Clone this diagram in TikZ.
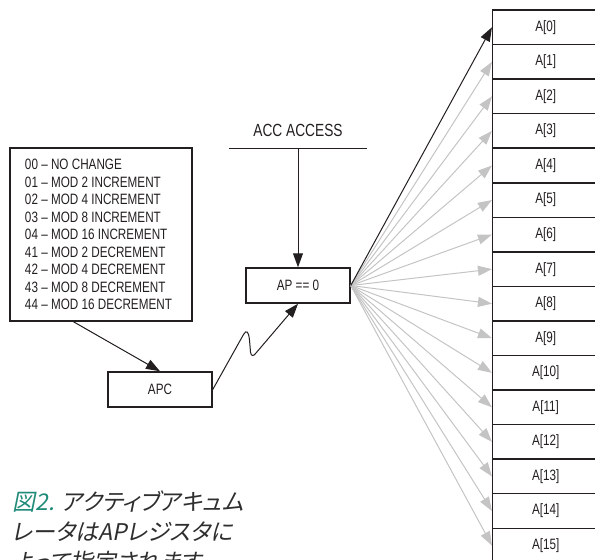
\documentclass[tikz,border=0pt]{standalone}
\usepackage{fontspec}
\usepackage{tikz}
\usetikzlibrary{arrows.meta,positioning,calc}
\newfontfamily\condsans[FakeStretch=0.78]{Liberation Sans}
\newfontfamily\capjp[FakeSlant=0.2,RawFeature=+palt]{Noto Sans CJK JP}
\definecolor{InkGray}{HTML}{231F20}
\definecolor{FanGray}{HTML}{C4C4C4}
\definecolor{FigTeal}{HTML}{1E8A78}
\definecolor{CapGray}{HTML}{2E2E2E}

\begin{document}
\begin{tikzpicture}[
  x=0.5pt,y=-0.5pt,
  box/.style={draw=InkGray,line width=0.75pt,minimum width=52pt,minimum height=17.5pt,
              inner sep=0pt,text=InkGray,font=\condsans\fontsize{7.5}{8.75}\selectfont},
  reg/.style={box,minimum width=53pt,minimum height=17.28pt},
  arr/.style={-{Triangle[length=7pt,width=5pt]},line width=0.5pt,draw=InkGray},
  fan/.style={arr,draw=FanGray}
]
\useasboundingbox (0,0) rectangle (595,559);
\clip (0,0) rectangle (595,559);

\node[box,minimum width=91pt,minimum height=86.5pt,text width=76pt,align=flush left] (modes) at (101,234.5)
  {00 – NO CHANGE\\01 – MOD 2 INCREMENT\\02 – MOD 4 INCREMENT\\03 – MOD 8 INCREMENT\\04 – MOD 16 INCREMENT\\41 – MOD 2 DECREMENT\\42 – MOD 4 DECREMENT\\43 – MOD 8 DECREMENT\\44 – MOD 16 DECREMENT};
\node[box] (ap) at (298,285.5) {AP == 0};
\node[box] (apc) at (160,389.5) {APC};

% accumulator access bus
\coordinate (accL) at (229,148);
\coordinate (accR) at (367,148);
\coordinate (acc) at (298,148);
\node[text=InkGray,font=\condsans\fontsize{8.8}{10}\selectfont,inner sep=0pt,above=5.5pt of acc] (acclabel) {ACC ACCESS};
\draw[InkGray,line width=0.5pt] (accL) -- (accR);
\draw[arr] (acc) -- (ap);

% accumulator registers
\foreach \i in {0,...,15}
  \node[reg] (r\i) at (545.7,{10+34.55*(\i+0.5)}) {A[\i]};

\foreach \i in {1,...,15}
  \draw[fan] (ap.east) -- (r\i.west);
\draw[arr] (ap.east) -- (r0.west);

\draw[arr] ($(modes.south west)!0.35!(modes.south east)$) -- (apc.north);
\draw[arr] (apc.east) -- (243.5,334.5) .. controls (246.5,329.5) and (248.5,331) .. (249.5,340)
  -- (250.5,352) .. controls (251,356.5) and (253.5,356.5) .. (256,353) -- (ap.south);

\node[anchor=north west,inner sep=0pt,align=left,text=CapGray,font=\capjp\fontsize{11.5}{15}\selectfont] (caption) at (12,490)
  {\textcolor{FigTeal}{図2.} アクティブアキュム\\レータはAPレジスタに\\よって指定されます。};
\end{tikzpicture}
\end{document}
